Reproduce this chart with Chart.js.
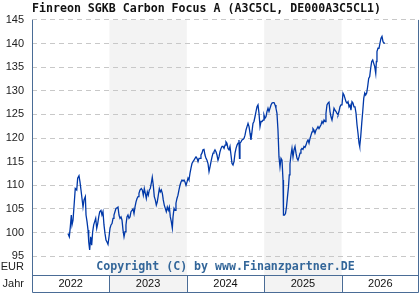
<!DOCTYPE html>
<html>
<head>
<meta charset="utf-8">
<script src="https://cdn.jsdelivr.net/npm/chart.js@4.4.0/dist/chart.umd.min.js"></script>
<style>
  html, body { margin: 0; padding: 0; background: #fff; }
  #chart { display: block; }
</style>
</head>
<body>
<canvas id="chart" width="420" height="300"></canvas>
<script>
const titleText = 'Finreon SGKB Carbon Focus A (A3C5CL, DE000A3C5CL1)';
const copyrightText = 'Copyright (C) by www.Finanzpartner.DE';
const yearLabels = ['2022', '2023', '2024', '2025', '2026'];
const shadedYears = [2023, 2025];
const yTicks = [95, 100, 105, 110, 115, 120, 125, 130, 135, 140, 145];

// decimal year of each point
const dates = [
  2022.465, 2022.482, 2022.495, 2022.508, 2022.517, 2022.530, 2022.547, 2022.559, 2022.578, 2022.590,
  2022.607, 2022.620, 2022.633, 2022.646, 2022.659, 2022.672, 2022.689, 2022.698, 2022.711, 2022.724,
  2022.733, 2022.745, 2022.758, 2022.771, 2022.784, 2022.797, 2022.810, 2022.823, 2022.836, 2022.849,
  2022.862, 2022.875, 2022.891, 2022.904, 2022.917, 2022.930, 2022.943, 2022.956, 2022.969, 2022.982,
  2022.995, 2023.008, 2023.021, 2023.034, 2023.047, 2023.059, 2023.072, 2023.085, 2023.098, 2023.111,
  2023.124, 2023.137, 2023.150, 2023.163, 2023.176, 2023.189, 2023.202, 2023.214, 2023.227, 2023.240,
  2023.253, 2023.266, 2023.279, 2023.292, 2023.305, 2023.318, 2023.331, 2023.344, 2023.357, 2023.370,
  2023.382, 2023.395, 2023.412, 2023.425, 2023.438, 2023.451, 2023.464, 2023.477, 2023.490, 2023.503,
  2023.516, 2023.528, 2023.541, 2023.554, 2023.567, 2023.580, 2023.593, 2023.606, 2023.619, 2023.632,
  2023.645, 2023.658, 2023.671, 2023.684, 2023.696, 2023.709, 2023.722, 2023.735, 2023.748, 2023.761,
  2023.774, 2023.787, 2023.800, 2023.813, 2023.822, 2023.835, 2023.848, 2023.860, 2023.873, 2023.886,
  2023.899, 2023.912, 2023.925, 2023.938, 2023.951, 2023.964, 2023.977, 2023.990, 2024.003, 2024.016,
  2024.028, 2024.041, 2024.054, 2024.067, 2024.080, 2024.093, 2024.106, 2024.119, 2024.132, 2024.145,
  2024.158, 2024.171, 2024.183, 2024.196, 2024.209, 2024.222, 2024.235, 2024.248, 2024.261, 2024.274,
  2024.287, 2024.300, 2024.313, 2024.326, 2024.339, 2024.351, 2024.364, 2024.377, 2024.390, 2024.403,
  2024.416, 2024.429, 2024.442, 2024.455, 2024.468, 2024.481, 2024.494, 2024.506, 2024.519, 2024.532,
  2024.545, 2024.558, 2024.571, 2024.584, 2024.597, 2024.610, 2024.623, 2024.636, 2024.649, 2024.662,
  2024.674, 2024.681, 2024.687, 2024.700, 2024.713, 2024.726, 2024.739, 2024.752, 2024.765, 2024.778,
  2024.791, 2024.804, 2024.817, 2024.829, 2024.842, 2024.855, 2024.868, 2024.881, 2024.894, 2024.907,
  2024.920, 2024.933, 2024.946, 2024.959, 2024.972, 2024.985, 2024.997, 2025.010, 2025.023, 2025.036,
  2025.049, 2025.062, 2025.075, 2025.088, 2025.101, 2025.114, 2025.127, 2025.140, 2025.152, 2025.165,
  2025.178, 2025.191, 2025.204, 2025.217, 2025.230, 2025.243, 2025.249, 2025.262, 2025.275, 2025.288,
  2025.301, 2025.314, 2025.324, 2025.333, 2025.346, 2025.359, 2025.372, 2025.385, 2025.398, 2025.411,
  2025.424, 2025.437, 2025.450, 2025.463, 2025.475, 2025.488, 2025.501, 2025.514, 2025.527, 2025.540,
  2025.553, 2025.566, 2025.579, 2025.592, 2025.605, 2025.618, 2025.630, 2025.643, 2025.656, 2025.669,
  2025.682, 2025.695, 2025.708, 2025.721, 2025.734, 2025.747, 2025.760, 2025.773, 2025.786, 2025.798,
  2025.811, 2025.824, 2025.837, 2025.850, 2025.863, 2025.876, 2025.889, 2025.902, 2025.915, 2025.928,
  2025.941, 2025.953, 2025.966, 2025.979, 2025.992, 2026.005, 2026.018, 2026.031, 2026.044, 2026.057,
  2026.070, 2026.083, 2026.096, 2026.109, 2026.121, 2026.134, 2026.147, 2026.160, 2026.173, 2026.186,
  2026.199, 2026.212, 2026.225, 2026.234, 2026.247, 2026.260, 2026.273, 2026.286, 2026.299, 2026.311,
  2026.324, 2026.337, 2026.350, 2026.363, 2026.376, 2026.389, 2026.402, 2026.415, 2026.428, 2026.441,
  2026.449, 2026.457, 2026.470, 2026.483, 2026.496, 2026.509, 2026.522, 2026.535, 2026.548, 2026.561
];

// price in EUR
const prices = [
  99.8, 99.1, 101.2, 103.7, 101.6, 102.6, 106.5, 109.3, 109.0, 111.5,
  112.0, 110.7, 109.0, 107.2, 105.4, 106.9, 107.6, 103.7, 102.3, 100.5,
  98.0, 96.3, 99.1, 97.3, 100.2, 101.6, 102.3, 103.0, 100.9, 101.9,
  103.3, 104.4, 104.7, 103.7, 104.4, 101.6, 99.8, 98.4, 98.0, 97.5,
  99.1, 100.9, 101.6, 101.9, 103.0, 103.7, 104.4, 105.1, 105.2, 105.4,
  103.7, 103.0, 103.3, 102.6, 100.5, 99.1, 100.2, 101.6, 103.3, 103.7,
  103.0, 103.3, 104.4, 104.7, 105.0, 104.0, 105.4, 106.5, 107.2, 107.6,
  108.3, 109.0, 109.3, 109.0, 107.9, 109.3, 108.3, 107.2, 108.6, 107.9,
  109.0, 109.3, 110.4, 111.7, 110.0, 107.6, 106.9, 105.8, 106.5, 107.9,
  109.3, 108.6, 109.0, 108.3, 106.9, 105.8, 105.1, 104.4, 105.4, 104.7,
  105.4, 103.3, 102.3, 100.9, 103.3, 105.1, 104.7, 106.2, 107.2, 107.9,
  109.0, 110.0, 110.7, 111.1, 110.9, 111.1, 110.7, 110.0, 110.7, 111.5,
  111.1, 112.5, 113.6, 114.6, 115.0, 115.3, 115.7, 116.0, 115.7, 115.0,
  115.7, 115.7, 116.4, 116.8, 117.5, 117.6, 116.4, 115.7, 115.3, 114.6,
  112.9, 113.9, 115.0, 116.0, 116.8, 117.1, 117.5, 117.1, 116.4, 115.3,
  116.0, 117.1, 117.8, 118.2, 118.2, 117.8, 118.5, 119.2, 118.9, 117.8,
  117.5, 118.2, 116.4, 114.6, 114.3, 115.0, 116.8, 117.8, 118.5, 118.9,
  119.6, 115.7, 118.9, 119.2, 119.6, 119.7, 119.9, 120.6, 121.7, 122.4,
  123.1, 122.4, 121.0, 119.6, 121.3, 123.1, 123.5, 124.5, 125.6, 126.6,
  127.0, 125.2, 122.4, 123.5, 123.5, 123.8, 124.9, 124.2, 124.5, 125.6,
  126.3, 125.6, 126.3, 127.0, 127.4, 127.5, 127.5, 127.0, 126.3, 125.2,
  121.7, 116.0, 113.9, 115.7, 115.3, 111.1, 103.7, 103.7, 104.0, 105.4,
  107.6, 109.7, 112.2, 114.5, 116.4, 117.8, 116.0, 117.5, 118.2, 116.8,
  115.7, 115.3, 116.0, 116.8, 117.5, 117.8, 117.6, 118.2, 118.0, 118.5,
  119.2, 119.6, 118.9, 119.9, 120.6, 121.3, 122.0, 121.7, 121.0, 121.7,
  122.0, 122.4, 122.0, 122.4, 122.8, 123.5, 123.1, 123.8, 123.5, 125.2,
  127.0, 127.4, 127.6, 125.6, 124.5, 123.8, 124.9, 126.3, 125.9, 125.6,
  125.2, 124.9, 125.6, 126.6, 127.0, 127.0, 129.5, 129.1, 128.4, 127.7,
  127.4, 127.7, 126.6, 127.0, 125.9, 127.7, 127.4, 126.6, 126.6, 125.3,
  122.8, 121.0, 118.9, 118.2, 120.3, 123.1, 125.6, 128.4, 129.5, 129.1,
  129.5, 130.9, 132.6, 133.0, 134.8, 136.2, 136.5, 135.8, 135.1, 133.7,
  136.2, 138.3, 139.0, 139.0, 140.1, 141.1, 141.5, 140.4, 140.1, 140.1
];

const frameColor = '#4a6c96';
const monoBold = { family: '"DejaVu Sans Mono", monospace', size: 11.6, weight: 'bold' };
const labelFont = { family: '"Liberation Sans", Arial, sans-serif', size: 11 };

const points = dates.map((d, i) => ({ x: d, y: prices[i] }));

const bandsPlugin = {
  id: 'bands',
  beforeDraw(chart) {
    const { ctx, chartArea, scales } = chart;
    const bottom = scales.xYear.top + 17;
    ctx.save();
    ctx.fillStyle = '#f3f3f3';
    shadedYears.forEach(yr => {
      const x0 = scales.x.getPixelForValue(yr);
      const x1 = scales.x.getPixelForValue(yr + 1);
      ctx.fillRect(x0, chartArea.top, x1 - x0, bottom - chartArea.top);
    });
    ctx.restore();
  }
};

const framePlugin = {
  id: 'frame',
  afterDatasetsDraw(chart) {
    const { ctx, chartArea, scales } = chart;
    const boxTop = scales.xYear.top;
    const boxBottom = boxTop + 17;

    ctx.save();
    ctx.fillStyle = '#336699';
    ctx.font = 'bold 11.6px "DejaVu Sans Mono", monospace';
    ctx.textAlign = 'center';
    ctx.textBaseline = 'middle';
    ctx.fillText(copyrightText, (chartArea.left + chartArea.right) / 2, 267);

    ctx.fillStyle = '#222';
    ctx.font = '11px "Liberation Sans", Arial, sans-serif';
    ctx.textAlign = 'right';
    ctx.fillText('EUR', chartArea.left - 8, 267);
    ctx.fillText('Jahr', chartArea.left - 8, (boxTop + boxBottom) / 2 + 0.5);

    ctx.strokeStyle = frameColor;
    ctx.lineWidth = 1;
    ctx.beginPath();
    const l = Math.round(chartArea.left) + 0.5;
    const r = Math.round(chartArea.right) - 0.5;
    ctx.moveTo(l, chartArea.top);
    ctx.lineTo(l, boxBottom + 0.5);
    ctx.lineTo(r, boxBottom + 0.5);
    ctx.lineTo(r, chartArea.top);
    ctx.moveTo(l, Math.round(boxTop) + 0.5);
    ctx.lineTo(r, Math.round(boxTop) + 0.5);
    for (let yr = 2023; yr <= 2026; yr++) {
      const x = Math.round(scales.x.getPixelForValue(yr)) + 0.5;
      ctx.moveTo(x, boxTop);
      ctx.lineTo(x, boxBottom);
    }
    ctx.stroke();
    ctx.restore();
  }
};

new Chart(document.getElementById('chart'), {
  type: 'line',
  data: {
    datasets: [{
      data: points,
      borderColor: '#0038a8',
      borderWidth: 1.3,
      pointRadius: 0,
      tension: 0,
      xAxisID: 'x',
      yAxisID: 'y'
    }]
  },
  options: {
    responsive: false,
    animation: false,
    devicePixelRatio: 1,
    layout: { padding: { left: 0, right: 1, top: 0, bottom: 0 } },
    scales: {
      x: {
        type: 'linear',
        min: 2022,
        max: 2027,
        display: false
      },
      xYear: {
        type: 'category',
        labels: yearLabels,
        position: 'bottom',
        offset: true,
        grid: { display: false, drawTicks: false },
        border: { display: false },
        ticks: { color: '#111', font: labelFont, padding: 2, maxRotation: 0, autoSkip: false },
        afterFit(scale) { scale.height = 25; }
      },
      y: {
        min: 91,
        max: 145,
        grid: { color: '#c8c8c8', drawTicks: false },
        border: { display: false, dash: [5, 4] },
        ticks: { color: '#222', font: labelFont, padding: 8, stepSize: 5 },
        afterBuildTicks(scale) {
          scale.ticks = yTicks.map(v => ({ value: v }));
        },
        afterFit(scale) { scale.width = 32; }
      }
    },
    plugins: {
      legend: { display: false },
      tooltip: { enabled: false },
      title: {
        display: true,
        text: titleText,
        align: 'start',
        fullSize: false,
        color: '#111',
        font: monoBold,
        padding: { top: 2, bottom: 4 }
      }
    }
  },
  plugins: [bandsPlugin, framePlugin]
});
</script>
</body>
</html>
